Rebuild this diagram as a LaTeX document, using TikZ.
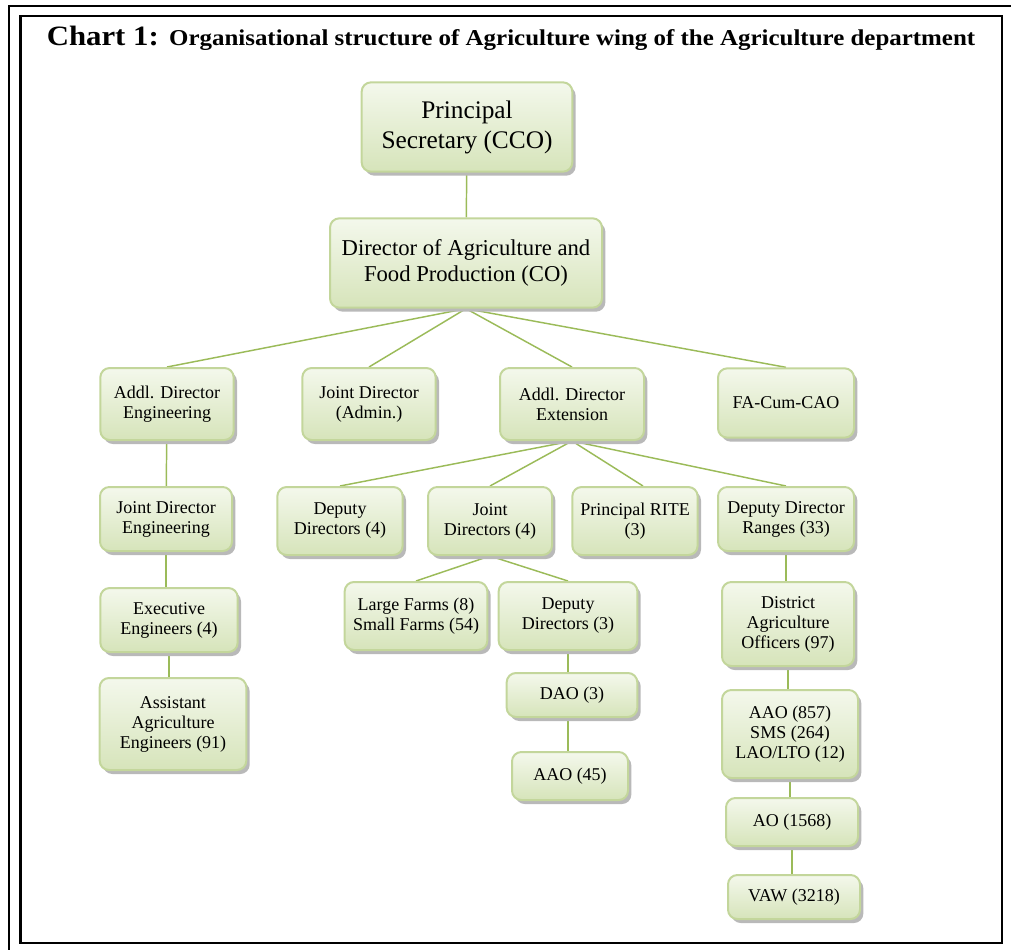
\documentclass[tikz,border=0pt]{standalone}
\usepackage{fontspec}
\setmainfont{Liberation Serif}
\usepackage{tikz}
\usetikzlibrary{shadows,backgrounds}
\definecolor{boxline}{HTML}{C3D69B}
\definecolor{boxtop}{HTML}{F4F8EC}
\definecolor{boxbot}{HTML}{D6E4BA}
\definecolor{linkgreen}{HTML}{9BBB59}

\begin{document}
\begin{tikzpicture}[x=0.75pt,y=-0.75pt,
  unit/.style={draw=boxline, line width=1.5pt, rounded corners=7pt,
    top color=boxtop, bottom color=boxbot, align=center,
    font=\fontsize{13.5}{15}\selectfont, inner sep=2pt,
    drop shadow={shadow xshift=2.5pt, shadow yshift=-3pt, fill=gray!55, opacity=1}},
  link/.style={draw=linkgreen, line width=1.1pt}]
\useasboundingbox (0,0) rectangle (1011,950);
\draw[line width=1.5pt] (8,6) -- (1011,6);
\draw[line width=1.5pt] (9,6) -- (9,950);
\draw[line width=2pt] (20.5,16) rectangle (1002,943);

\node (title) at (511,38) {\scalebox{1.1}[1]{\bfseries\fontsize{21}{24}\selectfont Chart 1: \fontsize{17}{20}\selectfont Organisational structure of Agriculture wing of the Agriculture department}};

\node[unit, minimum width=158pt, minimum height=67pt, font=\fontsize{19}{22.5}\selectfont] (ps) at (467,127) {Principal\\Secretary (CCO)};
\node[unit, minimum width=204pt, minimum height=67pt, font=\fontsize{17}{20}\selectfont] (dafp) at (466,263) {Director of Agriculture and\\Food Production (CO)};

\node[unit, minimum width=100pt, minimum height=54pt] (ade) at (167,404) {Addl. Director\\Engineering};
\node[unit, minimum width=100pt, minimum height=54pt] (jda) at (369,404) {Joint Director\\(Admin.)};
\node[unit, minimum width=108pt, minimum height=54pt] (adx) at (572,404) {Addl. Director\\Extension};
\node[unit, minimum width=102pt, minimum height=52pt] (fa) at (786,403) {FA-Cum-CAO};

\node[unit, minimum width=99pt, minimum height=48pt] (jde) at (166,519) {Joint Director\\Engineering};
\node[unit, minimum width=94pt, minimum height=51pt] (dd4) at (340,521) {Deputy\\Directors (4)};
\node[unit, minimum width=93pt, minimum height=51pt] (jd4) at (490,521) {Joint\\Directors (4)};
\node[unit, minimum width=94pt, minimum height=51pt] (rite) at (635,521) {Principal RITE\\(3)};
\node[unit, minimum width=102pt, minimum height=48pt] (ddr) at (786,519) {Deputy Director\\Ranges (33)};

\node[unit, minimum width=103pt, minimum height=48pt] (ee) at (169,620) {Executive\\Engineers (4)};
\node[unit, minimum width=107pt, minimum height=51pt] (lf) at (416,616) {Large Farms (8)\\Small Farms (54)};
\node[unit, minimum width=104pt, minimum height=51pt] (dd3) at (568,616) {Deputy\\Directors (3)};
\node[unit, minimum width=99pt, minimum height=63pt] (dao97) at (788,624) {District\\Agriculture\\Officers (97)};

\node[unit, minimum width=98pt, minimum height=33pt] (dao3) at (572,695) {DAO (3)};
\node[unit, minimum width=110pt, minimum height=69pt] (aae) at (173,724) {Assistant\\Agriculture\\Engineers (91)};
\node[unit, minimum width=102pt, minimum height=66pt] (aao857) at (790,734) {AAO (857)\\SMS (264)\\LAO/LTO (12)};
\node[unit, minimum width=87pt, minimum height=36pt] (aao45) at (570,776) {AAO (45)};
\node[unit, minimum width=99pt, minimum height=36pt] (ao) at (792,822) {AO (1568)};
\node[unit, minimum width=99pt, minimum height=33pt] (vaw) at (794,897) {VAW (3218)};

\begin{scope}[on background layer]
\draw[link] (ps) -- (dafp);
\draw[link] (dafp.south) -- (ade.north);
\draw[link] (dafp.south) -- (jda.north);
\draw[link] (dafp.south) -- (adx.north);
\draw[link] (dafp.south) -- (fa.north);
\draw[link] (ade) -- (jde);
\draw[link] (jde.south) -- (jde.south |- ee.north);
\draw[link] (ee.south) -- (ee.south |- aae.north);
\draw[link] (adx.south) -- (dd4.north);
\draw[link] (adx.south) -- (jd4.north);
\draw[link] (adx.south) -- ([xshift=6pt]rite.north);
\draw[link] (adx.south) -- (ddr.north);
\draw[link] (jd4.south) -- (lf.north);
\draw[link] (jd4.south) -- (dd3.north);
\draw[link] (dd3.south) -- (dd3.south |- dao3.north);
\draw[link] (dd3.south |- dao3.south) -- (dd3.south |- aao45.north);
\draw[link] (ddr.south) -- (ddr.south |- dao97.north);
\draw[link] (dao97.south) -- (dao97.south |- aao857.north);
\draw[link] (aao857.south) -- (aao857.south |- ao.north);
\draw[link] (ao.south) -- (ao.south |- vaw.north);
\end{scope}
\end{tikzpicture}
\end{document}
